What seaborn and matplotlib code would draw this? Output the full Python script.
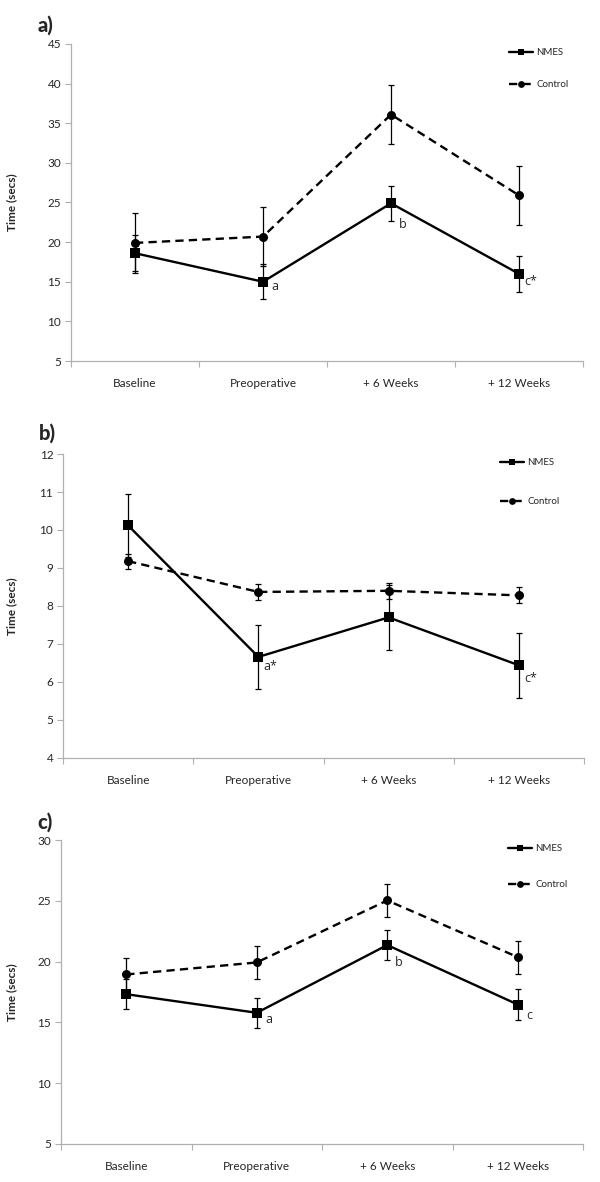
import matplotlib
matplotlib.use("Agg")
import matplotlib.pyplot as plt
import seaborn as sns
import pandas as pd
import numpy as np
from matplotlib.ticker import FixedLocator

# ---------------- data ----------------
categories = ["Baseline", "Preoperative", "+ 6 Weeks", "+ 12 Weeks"]
groups = ["NMES", "Control"]

a_nmes = [18.6, 15.0, 24.9, 16.0]
a_nmes_err = [2.3, 2.2, 2.2, 2.25]
a_ctrl = [19.9, 20.7, 36.1, 25.9]
a_ctrl_err = [3.75, 3.7, 3.7, 3.75]
a_yticks = [5, 10, 15, 20, 25, 30, 35, 40, 45]
a_notes = [(1, 14.4, "a"), (2, 22.2, "b"), (3, 15.0, "c*")]

b_nmes = [10.12, 6.66, 7.70, 6.44]
b_nmes_err = [0.83, 0.84, 0.85, 0.85]
b_ctrl = [9.18, 8.37, 8.40, 8.28]
b_ctrl_err = [0.2, 0.21, 0.21, 0.21]
b_yticks = [4, 5, 6, 7, 8, 9, 10, 11, 12]
b_notes = [(1, 6.4, "a*"), (3, 6.1, "c*")]

c_nmes = [17.32, 15.79, 21.36, 16.47]
c_nmes_err = [1.23, 1.22, 1.25, 1.25]
c_ctrl = [18.94, 19.93, 25.03, 20.37]
c_ctrl_err = [1.35, 1.36, 1.36, 1.35]
c_yticks = [5, 10, 15, 20, 25, 30]
c_notes = [(1, 15.24, "a"), (2, 19.96, "b"), (3, 15.6, "c")]

panel_labels = ["a)", "b)", "c)"]
ylabel = "Time (secs)"

# ---------------- style ----------------
sns.set_style("ticks")
plt.rcParams["font.family"] = ["Lato", "DejaVu Sans"]

W, H = 600, 1182
fig = plt.figure(figsize=(W / 100, H / 100), dpi=100)

# axes boxes in pixels: left, right, top, bottom
boxes = [(71, 583, 44, 361), (63, 584, 454, 758), (61, 583, 840, 1144)]
legend_spacing = [2.4, 3.1, 2.8]
legend_x = [509, 500, 508]
label_pos = [(45, 25), (47, 433), (45, 822)]

panels = [
    (a_nmes, a_nmes_err, a_ctrl, a_ctrl_err, a_yticks, a_notes),
    (b_nmes, b_nmes_err, b_ctrl, b_ctrl_err, b_yticks, b_notes),
    (c_nmes, c_nmes_err, c_ctrl, c_ctrl_err, c_yticks, c_notes),
]

axis_grey = "#B0B0B0"

for i, (nm, nm_e, ct, ct_e, yt, notes) in enumerate(panels):
    l, r, t, b = boxes[i]
    ax = fig.add_axes([l / W, 1 - b / H, (r - l) / W, (b - t) / H])
    df = pd.DataFrame({
        "x": list(range(len(categories))) * 2,
        "value": nm + ct,
        "group": [groups[0]] * len(categories) + [groups[1]] * len(categories),
    })
    sns.lineplot(data=df, x="x", y="value", hue="group", style="group",
                 palette={"NMES": "black", "Control": "black"},
                 dashes={"NMES": "", "Control": (3.5, 2.2)},
                 markers={"NMES": "s", "Control": "o"},
                 markersize=6.5, linewidth=1.7, markeredgewidth=0,
                 ax=ax, legend=True, zorder=3)
    xs = np.arange(len(categories))
    ax.errorbar(xs, nm, yerr=nm_e, fmt="none", ecolor="black",
                elinewidth=0.9, capsize=2.2, capthick=0.9, zorder=2)
    ax.errorbar(xs, ct, yerr=ct_e, fmt="none", ecolor="black",
                elinewidth=0.9, capsize=2.2, capthick=0.9, zorder=2)

    ax.set_xlim(-0.5, len(categories) - 0.5)
    ax.set_ylim(yt[0], yt[-1])
    ax.set_yticks(yt)
    ax.set_yticklabels([str(v) for v in yt], fontsize=8.5)
    ax.set_xticks(xs)
    ax.set_xticklabels(categories, fontsize=8.5)
    ax.xaxis.set_minor_locator(FixedLocator(np.arange(-0.5, len(categories), 1.0)))
    ax.tick_params(axis="x", which="major", length=0, pad=12)
    ax.tick_params(axis="x", which="minor", length=4, color=axis_grey, width=0.8)
    ax.tick_params(axis="y", length=4, color=axis_grey, width=0.8, pad=3)
    sns.despine(ax=ax)
    for s in ["left", "bottom"]:
        ax.spines[s].set_color(axis_grey)
        ax.spines[s].set_linewidth(0.9)
    ax.set_xlabel("")
    ax.set_ylabel(ylabel, fontsize=8.5, fontweight="bold")
    ax.yaxis.set_label_coords(-(l - 17) / (r - l), 0.5)

    for (xi, yi, txt) in notes:
        ax.text(xi + 0.09, yi, txt, fontsize=9, ha="center", va="center",
                family=["Open Sans", "DejaVu Sans"])

    handles, labels = ax.get_legend_handles_labels()
    hl = [(h, lb) for h, lb in zip(handles, labels) if lb in groups]
    ax.legend([h for h, _ in hl], [lb for _, lb in hl],
              loc="upper left",
              bbox_to_anchor=((legend_x[i] - l) / (r - l), 1 - 4 / (b - t)),
              frameon=False, fontsize=7, handlelength=2.5, handletextpad=0.3,
              labelspacing=legend_spacing[i], borderpad=0, borderaxespad=0,
              numpoints=1, markerscale=0.75)

    fig.text(label_pos[i][0] / W, 1 - label_pos[i][1] / H, panel_labels[i],
             fontsize=14.5, fontweight="black", ha="center", va="center")

fig.savefig("out.png", dpi=100)
